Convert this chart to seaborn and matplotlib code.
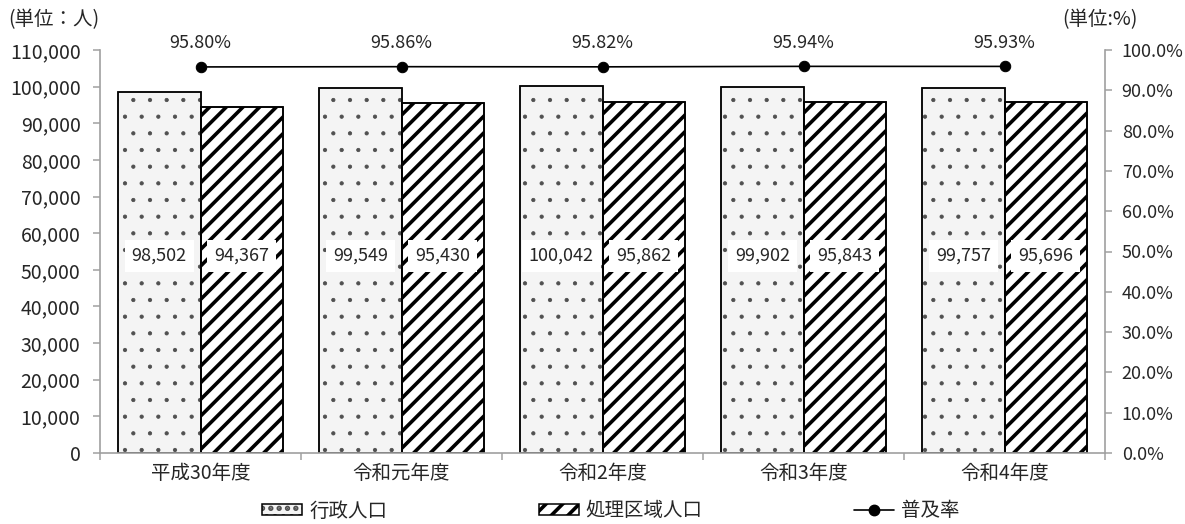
import matplotlib
matplotlib.use("Agg")
import matplotlib.pyplot as plt
import seaborn as sns
import pandas as pd
from matplotlib.patches import Patch, Rectangle
from matplotlib.lines import Line2D
from matplotlib.ticker import FixedLocator, FuncFormatter

years = ["平成30年度", "令和元年度", "令和2年度", "令和3年度", "令和4年度"]
admin_pop = [98502, 99549, 100042, 99902, 99757]
served_pop = [94367, 95430, 95862, 95843, 95696]
rate = [95.80, 95.86, 95.82, 95.94, 95.93]
series_names = ["行政人口", "処理区域人口", "普及率"]

sns.set_theme(style="white")
plt.rcParams['font.family'] = ['Noto Sans CJK JP', 'DejaVu Sans']
plt.rcParams['hatch.linewidth'] = 2.6

DOT_FILL = "#f4f4f4"
DOT_COLOR = "#505050"
AXIS_GRAY = "#a0a0a0"
STRIPE_LW = 2.6
DOT_LW = 0.6

df = pd.DataFrame({
    "year": years * 2,
    "pop": admin_pop + served_pop,
    "series": [series_names[0]] * 5 + [series_names[1]] * 5,
})

fig = plt.figure(figsize=(11.85, 5.24), dpi=100)
ax = fig.add_axes([100/1185, 1-453/524, 1005/1185, 403/524])

sns.barplot(data=df, x="year", y="pop", hue="series", hue_order=series_names[:2],
            width=0.82, dodge=True, ax=ax, legend=False, saturation=1,
            palette=[DOT_FILL, "white"], edgecolor="black", linewidth=1.1)

bars = list(ax.patches[:10])
for i, p in enumerate(bars):
    if i < 5:
        p.set_hatch(".")
        p.set_facecolor(DOT_FILL)
        p.set_edgecolor(DOT_COLOR)
        if hasattr(p, "set_hatch_linewidth"):
            p.set_hatch_linewidth(DOT_LW)
    else:
        p.set_hatch("//")
        p.set_facecolor("white")
        p.set_edgecolor("black")
        if hasattr(p, "set_hatch_linewidth"):
            p.set_hatch_linewidth(STRIPE_LW)
    ax.add_patch(Rectangle(p.get_xy(), p.get_width(), p.get_height(), fill=False,
                           edgecolor="black", linewidth=1.2, zorder=p.get_zorder() + 0.1))

ax.set_xlim(-0.5, 4.5)
ax.set_ylim(0, 110000)
ax.yaxis.set_major_locator(FixedLocator(range(0, 110001, 10000)))
ax.yaxis.set_major_formatter(FuncFormatter(lambda v, _: f"{int(v):,}"))
ax.set_xlabel("")
ax.set_ylabel("")
ax.xaxis.set_major_locator(FixedLocator([0, 1, 2, 3, 4]))
ax.set_xticklabels(years)
ax.xaxis.set_minor_locator(FixedLocator([-0.5, 0.5, 1.5, 2.5, 3.5, 4.5]))
ax.tick_params(axis="x", which="major", length=0, labelsize=14, pad=7)
ax.tick_params(axis="x", which="minor", length=5, color=AXIS_GRAY, width=1.1, direction="out", bottom=True)
ax.tick_params(axis="y", length=5, color=AXIS_GRAY, width=1.1, direction="out", left=True, labelsize=14, pad=9)
for s in ["top", "right"]:
    ax.spines[s].set_visible(False)
for s in ["left", "bottom"]:
    ax.spines[s].set_color(AXIS_GRAY)
    ax.spines[s].set_linewidth(1.2)

# value labels
for i in range(5):
    for j, vals in enumerate([admin_pop, served_pop]):
        x = i - 0.205 + j * 0.41
        ax.text(x, 53800, f"{vals[i]:,}", ha="center", va="center", fontsize=13, zorder=5,
                bbox=dict(boxstyle="square,pad=0.4", facecolor="white", edgecolor="none"))

ax2 = ax.twinx()
ax2.set_position(ax.get_position())
sns.lineplot(x=list(range(5)), y=rate, ax=ax2, color="black", marker="o",
             markersize=7.5, linewidth=1.2, markeredgecolor="black")
ax2.set_ylim(0, 100)
ax2.yaxis.set_major_locator(FixedLocator(range(0, 101, 10)))
ax2.yaxis.set_major_formatter(FuncFormatter(lambda v, _: f"{v:.1f}%"))
ax2.tick_params(axis="y", length=5, color=AXIS_GRAY, width=1.1, direction="out", right=True, labelsize=13, pad=7)
for s in ["top", "left", "bottom"]:
    ax2.spines[s].set_visible(False)
ax2.spines["right"].set_color(AXIS_GRAY)
ax2.spines["right"].set_linewidth(1.2)
ax2.set_xlim(-0.5, 4.5)
ax2.set_ylabel("")

for i, r in enumerate(rate):
    ax2.annotate(f"{r:.2f}%", (i, r), xytext=(0, 17), textcoords="offset points",
                 ha="center", va="center", fontsize=13)

fig.text(8/1185, 1-20/524, "(単位：人)", ha="left", va="center", fontsize=14)
fig.text(1062/1185, 1-20/524, "(単位:%)", ha="left", va="center", fontsize=14)

h_dot_fill = Patch(facecolor=DOT_FILL, edgecolor=DOT_COLOR, hatch="..", linewidth=0.01)
if hasattr(h_dot_fill, "set_hatch_linewidth"):
    h_dot_fill.set_hatch_linewidth(DOT_LW)
h_dot = (h_dot_fill, Patch(facecolor="none", edgecolor="black", linewidth=1.1))
h_str = Patch(facecolor="white", edgecolor="black", hatch="//", linewidth=1.1)
if hasattr(h_str, "set_hatch_linewidth"):
    h_str.set_hatch_linewidth(STRIPE_LW)
h_line = Line2D([0], [0], color="black", marker="o", markersize=7.5, linewidth=1.2)
fig.legend(handles=[h_dot, h_str, h_line], labels=series_names,
           loc="center", bbox_to_anchor=(611/1185, 1-511/524), ncol=3,
           frameon=False, fontsize=14, columnspacing=7.8, handlelength=2.06,
           handleheight=0.55, handletextpad=0.36)

fig.savefig("out.png", dpi=100)
